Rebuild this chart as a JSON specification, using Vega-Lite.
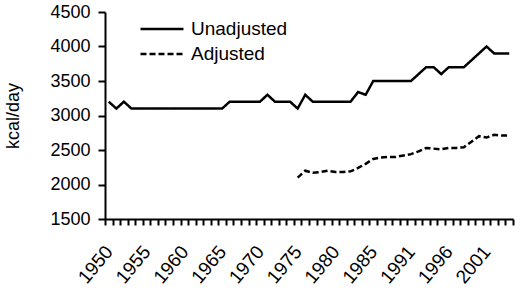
{
  "$schema": "https://vega.github.io/schema/vega-lite/v6.json",
  "autosize": {"type": "none"},
  "width": 408,
  "height": 207,
  "padding": {"left": 105, "top": 12, "right": 7, "bottom": 73},
  "background": "white",
  "config": {
    "view": {"stroke": null},
    "font": "Liberation Sans",
    "axis": {
      "domainColor": "black", "domainWidth": 2, "tickColor": "black", "tickWidth": 2,
      "labelColor": "black", "labelFont": "Liberation Sans", "labelFontSize": 18,
      "titleFont": "Liberation Sans", "titleFontSize": 18, "titleFontWeight": "normal", "titleColor": "black",
      "grid": false
    }
  },
  "data": {"values": [
    {"year":"1950","series":"Unadjusted","kcal":3200},
    {"year":"1951","series":"Unadjusted","kcal":3100},
    {"year":"1952","series":"Unadjusted","kcal":3200},
    {"year":"1953","series":"Unadjusted","kcal":3100},
    {"year":"1954","series":"Unadjusted","kcal":3100},
    {"year":"1955","series":"Unadjusted","kcal":3100},
    {"year":"1956","series":"Unadjusted","kcal":3100},
    {"year":"1957","series":"Unadjusted","kcal":3100},
    {"year":"1958","series":"Unadjusted","kcal":3100},
    {"year":"1959","series":"Unadjusted","kcal":3100},
    {"year":"1960","series":"Unadjusted","kcal":3100},
    {"year":"1961","series":"Unadjusted","kcal":3100},
    {"year":"1962","series":"Unadjusted","kcal":3100},
    {"year":"1963","series":"Unadjusted","kcal":3100},
    {"year":"1964","series":"Unadjusted","kcal":3100},
    {"year":"1965","series":"Unadjusted","kcal":3100},
    {"year":"1966","series":"Unadjusted","kcal":3200},
    {"year":"1967","series":"Unadjusted","kcal":3200},
    {"year":"1968","series":"Unadjusted","kcal":3200},
    {"year":"1969","series":"Unadjusted","kcal":3200},
    {"year":"1970","series":"Unadjusted","kcal":3200},
    {"year":"1971","series":"Unadjusted","kcal":3300},
    {"year":"1972","series":"Unadjusted","kcal":3200},
    {"year":"1973","series":"Unadjusted","kcal":3200},
    {"year":"1974","series":"Unadjusted","kcal":3200},
    {"year":"1975","series":"Unadjusted","kcal":3100},
    {"year":"1976","series":"Unadjusted","kcal":3300},
    {"year":"1977","series":"Unadjusted","kcal":3200},
    {"year":"1978","series":"Unadjusted","kcal":3200},
    {"year":"1979","series":"Unadjusted","kcal":3200},
    {"year":"1980","series":"Unadjusted","kcal":3200},
    {"year":"1981","series":"Unadjusted","kcal":3200},
    {"year":"1982","series":"Unadjusted","kcal":3200},
    {"year":"1983","series":"Unadjusted","kcal":3340},
    {"year":"1984","series":"Unadjusted","kcal":3300},
    {"year":"1985","series":"Unadjusted","kcal":3500},
    {"year":"1986","series":"Unadjusted","kcal":3500},
    {"year":"1987","series":"Unadjusted","kcal":3500},
    {"year":"1988","series":"Unadjusted","kcal":3500},
    {"year":"1989","series":"Unadjusted","kcal":3500},
    {"year":"1991","series":"Unadjusted","kcal":3500},
    {"year":"1992","series":"Unadjusted","kcal":3600},
    {"year":"1993","series":"Unadjusted","kcal":3700},
    {"year":"1994","series":"Unadjusted","kcal":3700},
    {"year":"1995","series":"Unadjusted","kcal":3600},
    {"year":"1996","series":"Unadjusted","kcal":3700},
    {"year":"1997","series":"Unadjusted","kcal":3700},
    {"year":"1998","series":"Unadjusted","kcal":3700},
    {"year":"1999","series":"Unadjusted","kcal":3800},
    {"year":"2000","series":"Unadjusted","kcal":3900},
    {"year":"2001","series":"Unadjusted","kcal":4000},
    {"year":"2002","series":"Unadjusted","kcal":3900},
    {"year":"2003","series":"Unadjusted","kcal":3900},
    {"year":"2004","series":"Unadjusted","kcal":3900},
    {"year":"1975","series":"Adjusted","kcal":2100},
    {"year":"1976","series":"Adjusted","kcal":2200},
    {"year":"1977","series":"Adjusted","kcal":2170},
    {"year":"1978","series":"Adjusted","kcal":2180},
    {"year":"1979","series":"Adjusted","kcal":2200},
    {"year":"1980","series":"Adjusted","kcal":2180},
    {"year":"1981","series":"Adjusted","kcal":2180},
    {"year":"1982","series":"Adjusted","kcal":2190},
    {"year":"1983","series":"Adjusted","kcal":2240},
    {"year":"1984","series":"Adjusted","kcal":2300},
    {"year":"1985","series":"Adjusted","kcal":2370},
    {"year":"1986","series":"Adjusted","kcal":2390},
    {"year":"1987","series":"Adjusted","kcal":2400},
    {"year":"1988","series":"Adjusted","kcal":2400},
    {"year":"1989","series":"Adjusted","kcal":2420},
    {"year":"1991","series":"Adjusted","kcal":2440},
    {"year":"1992","series":"Adjusted","kcal":2480},
    {"year":"1993","series":"Adjusted","kcal":2530},
    {"year":"1994","series":"Adjusted","kcal":2520},
    {"year":"1995","series":"Adjusted","kcal":2510},
    {"year":"1996","series":"Adjusted","kcal":2530},
    {"year":"1997","series":"Adjusted","kcal":2530},
    {"year":"1998","series":"Adjusted","kcal":2540},
    {"year":"1999","series":"Adjusted","kcal":2620},
    {"year":"2000","series":"Adjusted","kcal":2700},
    {"year":"2001","series":"Adjusted","kcal":2680},
    {"year":"2002","series":"Adjusted","kcal":2720},
    {"year":"2003","series":"Adjusted","kcal":2710},
    {"year":"2004","series":"Adjusted","kcal":2710}
  ]},
  "mark": {"type": "line", "color": "black", "strokeWidth": 2.5},
  "encoding": {
    "x": {
      "field": "year", "type": "ordinal",
      "scale": {"type": "band", "paddingInner": 0, "paddingOuter": 0},
      "axis": {
        "title": null, "labelAngle": -50, "labelAlign": "right", "labelBaseline": "middle", "labelOverlap": false, "tickBand": "extent",
        "tickSize": 6, "labelPadding": 23, "labelDy": -7, "labelFontSize": 19,
        "labelExpr": "indexof(['1950','1955','1960','1965','1970','1975','1980','1985','1991','1996','2001'], datum.label) >= 0 ? datum.label : ''"
      }
    },
    "y": {
      "field": "kcal", "type": "quantitative",
      "scale": {"domain": [1500, 4500], "nice": false, "zero": false},
      "axis": {"title": "kcal/day", "format": "d", "values": [1500, 2000, 2500, 3000, 3500, 4000, 4500], "tickSize": 7, "labelPadding": 8, "titlePadding": 27}
    },
    "strokeDash": {
      "field": "series", "type": "nominal",
      "scale": {"domain": ["Unadjusted", "Adjusted"], "range": [[1, 0], [6, 3]]},
      "legend": {
        "title": null, "orient": "none", "legendX": 45, "legendY": 5,
        "symbolType": "M-2,0H2", "symbolSize": 462, "symbolStrokeWidth": 2.5, "symbolStrokeColor": "black",
        "labelFontSize": 19, "labelColor": "black", "labelFont": "Liberation Sans", "labelOffset": 17, "rowPadding": 3
      }
    }
  }
}
